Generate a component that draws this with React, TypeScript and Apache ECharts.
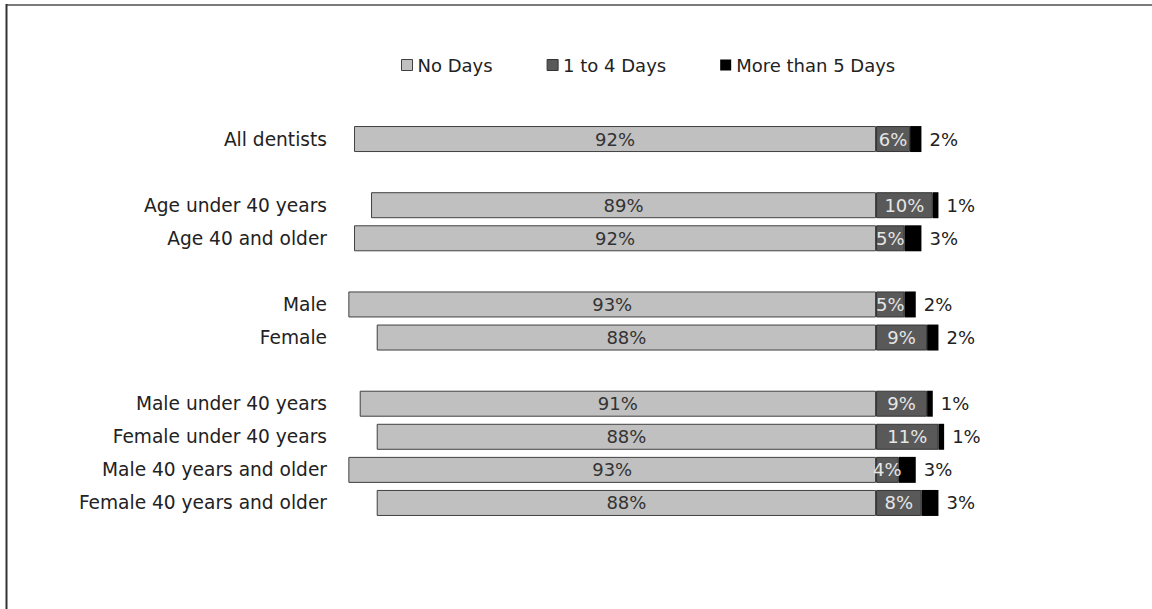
import React, { useEffect, useRef } from "react";
import * as echarts from "echarts";

const categories = [
  "All dentists",
  " ",
  "Age under 40 years",
  "Age 40 and older",
  "  ",
  "Male",
  "Female",
  "   ",
  "Male under 40 years",
  "Female under 40 years",
  "Male 40 years and older",
  "Female 40 years and older",
];
const noDays = [92, null, 89, 92, null, 93, 88, null, 91, 88, 93, 88];
const oneToFour = [6, null, 10, 5, null, 5, 9, null, 9, 11, 4, 8];
const moreThan5 = [2, null, 1, 3, null, 2, 2, null, 1, 1, 3, 3];
const seriesNames = ["No Days", "1 to 4 Days", "More than 5 Days"];

const FONT = "DejaVu Sans";

export default function App() {
  const ref = useRef<HTMLDivElement>(null);
  useEffect(() => {
    if (!ref.current) return;
    const chart = echarts.init(ref.current, null, { renderer: "svg" });
    const pct = (p: any) => (p.value == null ? "" : Math.abs(p.value) + "%");
    chart.setOption({
      animation: false,
      backgroundColor: "#ffffff",
      textStyle: { fontFamily: FONT },
      legend: {
        left: 401,
        top: 56,
        padding: 0,
        icon: "rect",
        itemWidth: 11,
        itemHeight: 11,
        itemGap: 54,
        textStyle: { fontSize: 18, color: "#222", fontFamily: FONT },
        data: [
          { name: seriesNames[0], itemStyle: { color: "#c0c0c0", borderColor: "#404040", borderWidth: 1 } },
          { name: seriesNames[1], itemStyle: { color: "#595959", borderColor: "#333", borderWidth: 1 } },
          { name: seriesNames[2], itemStyle: { color: "#000000" } },
        ],
      },
      grid: {
        left: 337,
        right: 49,
        top: 122.5,
        bottom: 89.5,
        outerBoundsMode: "none",
      },
      xAxis: {
        type: "value",
        min: -95,
        max: 40,
        show: false,
        splitLine: { show: false },
      },
      yAxis: {
        type: "category",
        inverse: true,
        data: categories,
        axisLine: { show: false, onZero: false },
        axisTick: { show: false },
        axisLabel: { fontSize: 18.6, color: "#222", margin: 10, fontFamily: FONT },
      },
      series: [
        {
          name: seriesNames[0],
          type: "bar",
          stack: "total",
          barWidth: 26,
          data: noDays.map((v) => (v == null ? null : -v)),
          itemStyle: { color: "#c0c0c0", borderColor: "#404040", borderWidth: 1 },
          label: { show: true, position: "inside", formatter: pct, fontSize: 18, color: "#333", fontFamily: FONT },
        },
        {
          name: seriesNames[1],
          type: "bar",
          stack: "total",
          barWidth: 26,
          data: oneToFour,
          itemStyle: { color: "#595959", borderColor: "#333", borderWidth: 1 },
          label: { show: true, position: "inside", formatter: pct, fontSize: 18, color: "#e6e6e6", fontFamily: FONT },
        },
        {
          name: seriesNames[2],
          type: "bar",
          stack: "total",
          barWidth: 26,
          data: moreThan5,
          itemStyle: { color: "#000000" },
          label: { show: true, position: "right", distance: 8, formatter: pct, fontSize: 18, color: "#222", fontFamily: FONT },
        },
      ],
      graphic: [
        { type: "line", shape: { x1: 6, y1: 5, x2: 1152, y2: 5 }, style: { stroke: "#7a7a7a", lineWidth: 2 } },
        { type: "line", shape: { x1: 6.5, y1: 4, x2: 6.5, y2: 609 }, style: { stroke: "#333", lineWidth: 2 } },
      ],
    });
    return () => chart.dispose();
  }, []);
  return (
    <div
      ref={ref}
      style={{ position: "absolute", left: 0, top: 0, width: 1152, height: 609 }}
    />
  );
}
